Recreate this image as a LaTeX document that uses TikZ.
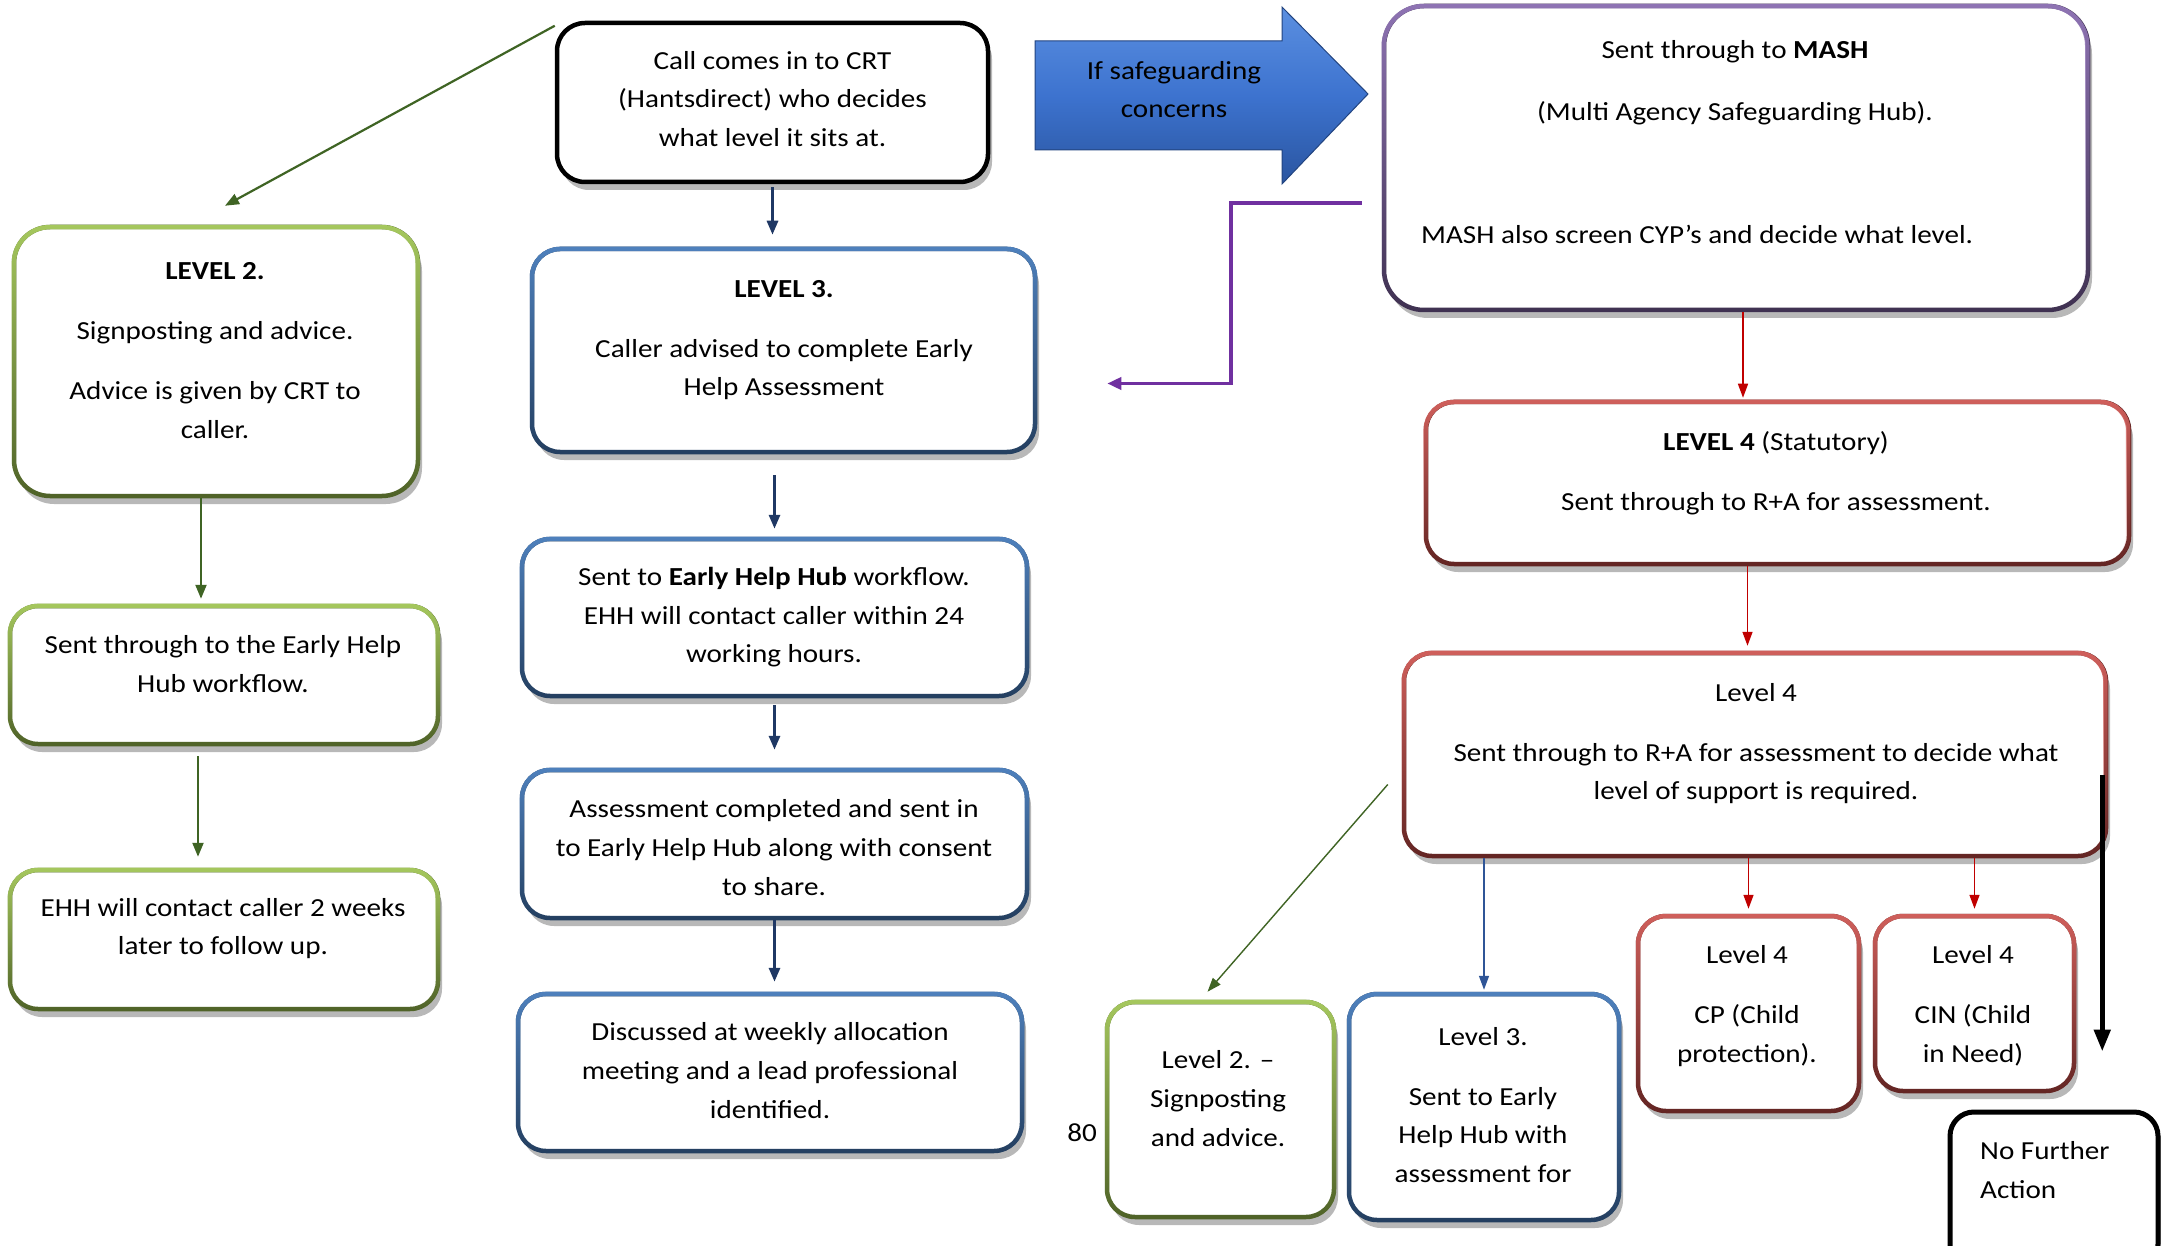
\documentclass[tikz,border=0pt]{standalone}
\usepackage{fontspec}
\setmainfont{Carlito}[FakeStretch=1.12]
\usetikzlibrary{arrows.meta,calc,shadows,fadings}
\definecolor{gLight}{HTML}{A6C85E}
\definecolor{gDark}{HTML}{4F6228}
\definecolor{bLight}{HTML}{4F81BD}
\definecolor{bDark}{HTML}{243F60}
\definecolor{rLight}{HTML}{D0605C}
\definecolor{rDark}{HTML}{632523}
\definecolor{pLight}{HTML}{8F74B4}
\definecolor{pDark}{HTML}{3F3151}
\definecolor{navy}{HTML}{1F3864}
\definecolor{arrgreen}{HTML}{3F6424}
\definecolor{arrred}{HTML}{C00000}
\definecolor{arrblue}{HTML}{2F5597}
\definecolor{arrpurple}{HTML}{7030A0}
\definecolor{safeTop}{HTML}{5B8FE0}
\definecolor{safeMid}{HTML}{3D73CF}
\definecolor{safeBot}{HTML}{2A55A0}
\tikzfading[name=fadedown, top color=transparent!0, bottom color=transparent!100]
\begin{document}
\begin{tikzpicture}[x=1pt,y=-1pt,
  box/.style={draw, line width=4.5pt, rounded corners=28pt, fill=white, inner sep=0pt,
    drop shadow={shadow xshift=4pt, shadow yshift=-8pt, opacity=0.28, fill=black}},
  gbox/.style={box, draw=gDark, postaction={draw=gLight, line width=4.5pt, path fading=fadedown}},
  bbox/.style={box, draw=bDark, postaction={draw=bLight, line width=4.5pt, path fading=fadedown}},
  rbox/.style={box, draw=rDark, postaction={draw=rLight, line width=4.5pt, path fading=fadedown}},
  pbox/.style={box, draw=pDark, postaction={draw=pLight, line width=4.5pt, path fading=fadedown}},
  kbox/.style={box, draw=black},
  txt/.style={align=center, inner sep=0pt, font=\fontsize{26}{38.6}\selectfont},
  navyarr/.style={draw=navy, line width=3pt, -{Triangle[length=14pt,width=11pt]}},
  greenarr/.style={draw=arrgreen, line width=2.2pt, -{Triangle[length=14pt,width=11pt]}},
  redarr/.style={draw=arrred, line width=1.5pt, -{Triangle[length=14pt,width=10pt]}},
  thinblue/.style={draw=arrblue, line width=1.6pt, -{Triangle[length=14pt,width=10pt]}},
  thingreen/.style={draw=arrgreen, line width=1.4pt, -{Triangle[length=14pt,width=10pt]}},
  purplearr/.style={draw=arrpurple, line width=3.5pt, -{Triangle[length=14pt,width=12pt]}},
  blackarr/.style={draw=black, line width=5pt, -{Triangle[length=22pt,width=16pt]}},
]
\useasboundingbox (0,0) rectangle (2161,1246);
\clip (0,0) rectangle (2161,1246);
\fill[white] (0,0) rectangle (2161,1246);

% boxes
\node[kbox, minimum width=431pt, minimum height=159pt] (crt) at (772.5,102.5) {};
\node[pbox, rounded corners=40pt, minimum width=704pt, minimum height=304pt] (mash) at (1736,158) {};
\node[gbox, rounded corners=36pt, minimum width=404pt, minimum height=269pt] (l2) at (216,361.5) {};
\node[bbox, minimum width=503pt, minimum height=203pt] (l3) at (783.5,350.5) {};
\node[gbox, minimum width=428pt, minimum height=138pt] (sent) at (224,675) {};
\node[gbox, minimum width=428pt, minimum height=139pt] (ehh2) at (224,939.5) {};
\node[bbox, minimum width=505pt, minimum height=157pt] (ehh) at (774.5,617.5) {};
\node[bbox, minimum width=505pt, minimum height=148pt] (assess) at (774.5,844) {};
\node[bbox, minimum width=504pt, minimum height=157pt] (disc) at (770,1072.5) {};
\node[rbox, minimum width=703pt, minimum height=162pt] (l4s) at (1777.5,483) {};
\node[rbox, minimum width=702pt, minimum height=203pt] (l4) at (1755,754.5) {};
\node[gbox, minimum width=227pt, minimum height=215pt] (l2s) at (1220.5,1109.5) {};
\node[bbox, minimum width=270pt, minimum height=226pt] (l3s) at (1484,1107) {};
\node[rbox, minimum width=221pt, minimum height=195pt] (cp) at (1748.5,1013.5) {};
\node[rbox, minimum width=199pt, minimum height=175pt] (cin) at (1974.5,1003.5) {};
\node[kbox, line width=5pt, rounded corners=24pt, minimum width=208pt, minimum height=156pt] (nfa) at (2054,1190) {};

% safeguarding arrow
\path[draw=safeBot!80!black, line width=1pt, top color=safeTop, bottom color=safeBot, middle color=safeMid]
  (1035,41) -- (1282,41) -- (1282,7) -- (1368,94) -- (1282,184) -- (1282,150) -- (1035,150) -- cycle;

% texts
\node[txt] (crt-t) at (772.5,99) {Call comes in to CRT\\(Hantsdirect) who decides\\what level it sits at.};
\node[txt] (safe-t) at (1174,89.6) {If safeguarding\\concerns};
\node[txt] (mash-t1) at (1735,52) {Sent through to \textbf{MASH}};
\node[txt] (mash-t2) at (1735,113) {(Multi Agency Safeguarding Hub).};
\node[txt, anchor=west] (mash-t3) at (1421,234) {MASH also screen CYP’s and decide what level.};
\node[txt] (l2-t) at (215,350.5) {\textbf{LEVEL 2.}\\[21.5pt]Signposting and advice.\\[21.5pt]Advice is given by CRT to\\caller.};
\node[txt] (l3-t) at (784,340) {\textbf{LEVEL 3.}\\[21.5pt]Caller advised to complete Early\\Help Assessment};
\node[txt] (sent-t) at (223,664) {Sent through to the Early Help\\Hub workflow.};
\node[txt] (ehh2-t) at (223,928.5) {EHH will contact caller 2 weeks\\later to follow up.};
\node[txt] (ehh-t) at (774,617.5) {Sent to \textbf{Early Help Hub} workflow.\\EHH will contact caller within 24\\working hours.};
\node[txt] (assess-t) at (774,847.5) {Assessment completed and sent in\\to Early Help Hub along with consent\\to share.};
\node[txt] (disc-t) at (770,1070.5) {Discussed at weekly allocation\\meeting and a lead professional\\identified.};
\node[txt] (l4s-t) at (1776,473.5) {\textbf{LEVEL 4} (Statutory)\\[21.5pt]Sent through to R+A for assessment.};
\node[txt] (l4-t) at (1756,743.5) {Level 4\\[21.5pt]Sent through to R+A for assessment to decide what\\level of support is required.};
\node[txt] (l2s-t) at (1218,1098.5) {Level 2. –\\Signposting\\and advice.};
\node[txt] (l3s-t) at (1483,1105) {Level 3.\\[21.5pt]Sent to Early\\Help Hub with\\assessment for};
\node[txt] (cp-t) at (1747,1006) {Level 4\\[21.5pt]CP (Child\\protection).};
\node[txt] (cin-t) at (1973,1006) {Level 4\\[21.5pt]CIN (Child\\in Need)};
\node[txt, align=left, anchor=west] (nfa-t) at (1980,1170) {No Further\\Action};
\node[txt] (num80) at (1082,1133) {80};

% connectors
\draw[greenarr] ([yshift=-5pt]crt.north west) -- ([xshift=9pt,yshift=19pt]l2.north);
\draw[navyarr, shorten <=3pt, shorten >=12pt] (crt.south) -- (crt.south |- l3.north);
\draw[navyarr, shorten <=21pt, shorten >=8pt] (l3.south -| ehh.north) -- (ehh.north);
\draw[navyarr, shorten <=7pt, shorten >=18pt] (ehh.south) -- (assess.north);
\draw[navyarr, shorten >=10pt] (assess.south) -- (assess.south |- disc.north);
\draw[greenarr, shorten >=5pt] ([xshift=-15pt]l2.south) -- ([xshift=-15pt]l2.south |- sent.north);
\draw[greenarr, shorten <=10pt, shorten >=11pt] ([xshift=-26pt]sent.south) -- ([xshift=-26pt]sent.south |- ehh2.north);
\draw[purplearr] ([xshift=-20pt,yshift=-45pt]mash.west) -- ++(-131,0) |- ([xshift=70pt,yshift=-33pt]l3.east);
\draw[redarr, shorten >=2pt] ([xshift=7pt]mash.south) -- ([xshift=7pt]mash.south |- l4s.north);
\draw[redarr, shorten >=5pt] ([xshift=-30pt]l4s.south) -- ([xshift=-30pt]l4s.south |- l4.north);
\draw[thingreen] ([xshift=-14pt,yshift=-30pt]l4.west) -- ([xshift=-13pt,yshift=8pt]l2s.north);
\draw[thinblue, shorten >=2pt] (l4.south -| l3s.north) -- (l3s.north);
\draw[redarr, shorten >=5pt] (l4.south -| cp.north) -- (cp.north);
\draw[redarr, shorten >=5pt] (l4.south -| cin.north) -- (cin.north);
\draw[blackarr, shorten >=78pt] ([xshift=-6pt,yshift=-20pt]l4.east) -- ([xshift=-6pt,yshift=-20pt]l4.east |- nfa.north);
\end{tikzpicture}
\end{document}
